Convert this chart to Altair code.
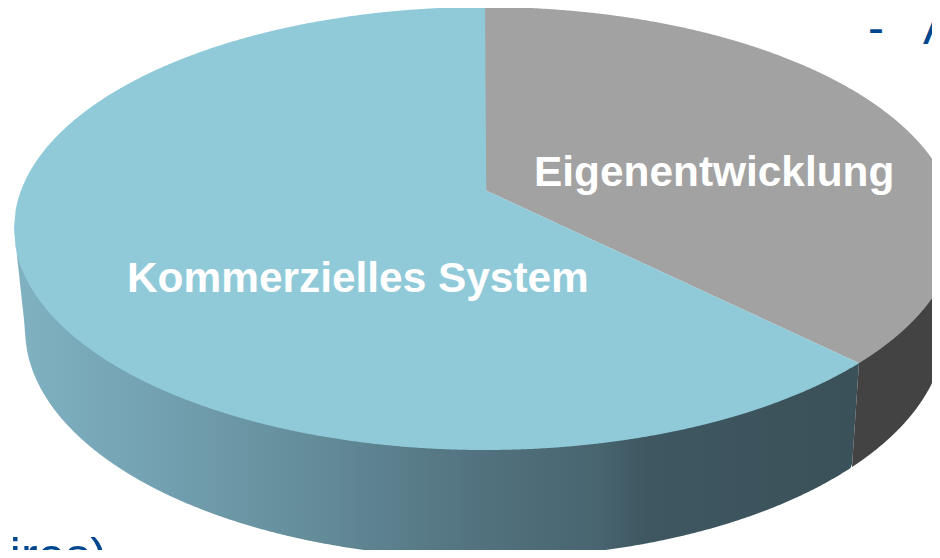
import math
import altair as alt
import pandas as pd

# --- data -----------------------------------------------------------------
categories = ["Eigenentwicklung", "Kommerzielles System"]
shares = [0.354, 0.646]

label_names = ["Eigenentwicklung", "Kommerzielles System"]
backdrop_names = ["-", "A", "aires)"]

wall_stops = [
    (0.00, "#80b2c2"), (0.04, "#7caebe"), (0.16, "#74a2b2"), (0.34, "#658e9b"),
    (0.54, "#537380"), (0.69, "#486570"), (0.75, "#3e5761"), (1.00, "#3b5159"),
]

# --- layout (picture pixels; the page's 8 px margin is taken out by the domain)
W, H = 924, 542
CX, TOP_CY, TOP_RX, TOP_RY = 485.0, 228.5, 471.0, 221.5
BOT_CY, BOT_RX, BOT_RY = 329.0, 460.0, 229.0
APEX_Y = 190.0

xs = alt.Scale(domain=[8, 8 + W], range=[0, W], nice=False, zero=False)
ys = alt.Scale(domain=[8, 8 + H], range=[0, H], nice=False, zero=False)
X = lambda f="x": alt.X(f"{f}:Q", scale=xs, axis=None)
Y = lambda f="y": alt.Y(f"{f}:Q", scale=ys, axis=None)
Y2 = lambda f="y2": alt.Y2(f"{f}:Q")


def rng(a, b, n=300):
    return [a + (b - a) * i / n for i in range(n + 1)]


def top_half(x, sign):
    u = max(0.0, 1 - ((x - CX) / TOP_RX) ** 2)
    return TOP_CY + sign * TOP_RY * math.sqrt(u)


def bot_half(x):
    u = max(0.0, 1 - ((x - CX) / BOT_RX) ** 2)
    return BOT_CY + BOT_RY * math.sqrt(u)


# the slice border on the rim, from the share of the grey slice
t = 2 * math.pi * shares[0]
RIM_X = CX + TOP_RX * math.sin(t)
RIM_Y = TOP_CY - TOP_RY * math.cos(t)
WALL_BOT_X = RIM_X - 7.0
WALL_BOT_Y = bot_half(WALL_BOT_X)
LEFT_X = CX - TOP_RX
TANG_X = CX - BOT_RX


def radial(x):
    return APEX_Y + (RIM_Y - APEX_Y) * (x - CX) / (RIM_X - CX)


def seam_y(x):
    return RIM_Y + (WALL_BOT_Y - RIM_Y) * (RIM_X - x) / (RIM_X - WALL_BOT_X)


# top-face slices
grey = [{"x": x, "y": top_half(x, -1), "y2": radial(x)} for x in rng(CX, RIM_X)]
grey += [{"x": x, "y": top_half(x, -1), "y2": top_half(x, 1)} for x in rng(RIM_X, CX + TOP_RX)]

blue = [{"x": x, "y": top_half(x, -1), "y2": top_half(x, 1)} for x in rng(LEFT_X, CX)]
blue += [{"x": x, "y": radial(x) if x > CX else top_half(x, -1), "y2": top_half(x, 1)}
         for x in rng(CX, RIM_X)]

# side walls
wall_b = []
for x in rng(LEFT_X, RIM_X, 500):
    if x < TANG_X:
        low = top_half(LEFT_X, 1) + (BOT_CY - TOP_CY) * (x - LEFT_X) / (TANG_X - LEFT_X)
    elif x <= WALL_BOT_X:
        low = bot_half(x)
    else:
        low = seam_y(x)
    wall_b.append({"x": x, "y": top_half(x, 1) - 1, "y2": low})

wall_d = []
for x in rng(WALL_BOT_X, CX + BOT_RX, 200):
    up = seam_y(x) if x < RIM_X else top_half(x, 1) - 1
    wall_d.append({"x": x, "y": up, "y2": bot_half(x)})

gradient = alt.Gradient(
    gradient="linear", x1=0, x2=1, y1=0, y2=0,
    stops=[alt.GradientStop(offset=o, color=c) for o, c in wall_stops],
)


def area(rows, color):
    return (
        alt.Chart(pd.DataFrame(rows))
        .mark_area(color=color, clip=True, interpolate="linear")
        .encode(x=X(), y=Y(), y2=Y2())
    )


def text(name, x, y, size, color, weight, align="left"):
    return (
        alt.Chart(pd.DataFrame({"name": [name], "x": [x], "y": [y]}))
        .mark_text(font="Liberation Sans", fontSize=size, fontWeight=weight, color=color,
                   align=align, baseline="alphabetic", clip=True)
        .encode(x=X(), y=Y(), text="name:N")
    )


NAVY = "#00478f"
chart = alt.layer(
    text(backdrop_names[0], 868, 44, 48, NAVY, "normal"),
    text(backdrop_names[1], 923, 44, 48, NAVY, "normal"),
    text(backdrop_names[2], 107, 573, 50, NAVY, "normal", "right"),
    area(wall_b, gradient),
    area(wall_d, "#434343"),
    area(grey, "#a2a2a2"),
    area(blue, "#90cad9"),
    text(label_names[0], 534, 186, 42.4, "white", "bold"),
    text(label_names[1], 127, 292, 42.4, "white", "bold"),
).properties(
    width=W, height=H, padding=0, background="white",
    autosize=alt.AutoSizeParams(type="none"),
).configure_view(stroke=None)

chart.save("out.html", embed_options={"renderer": "svg", "actions": False})
